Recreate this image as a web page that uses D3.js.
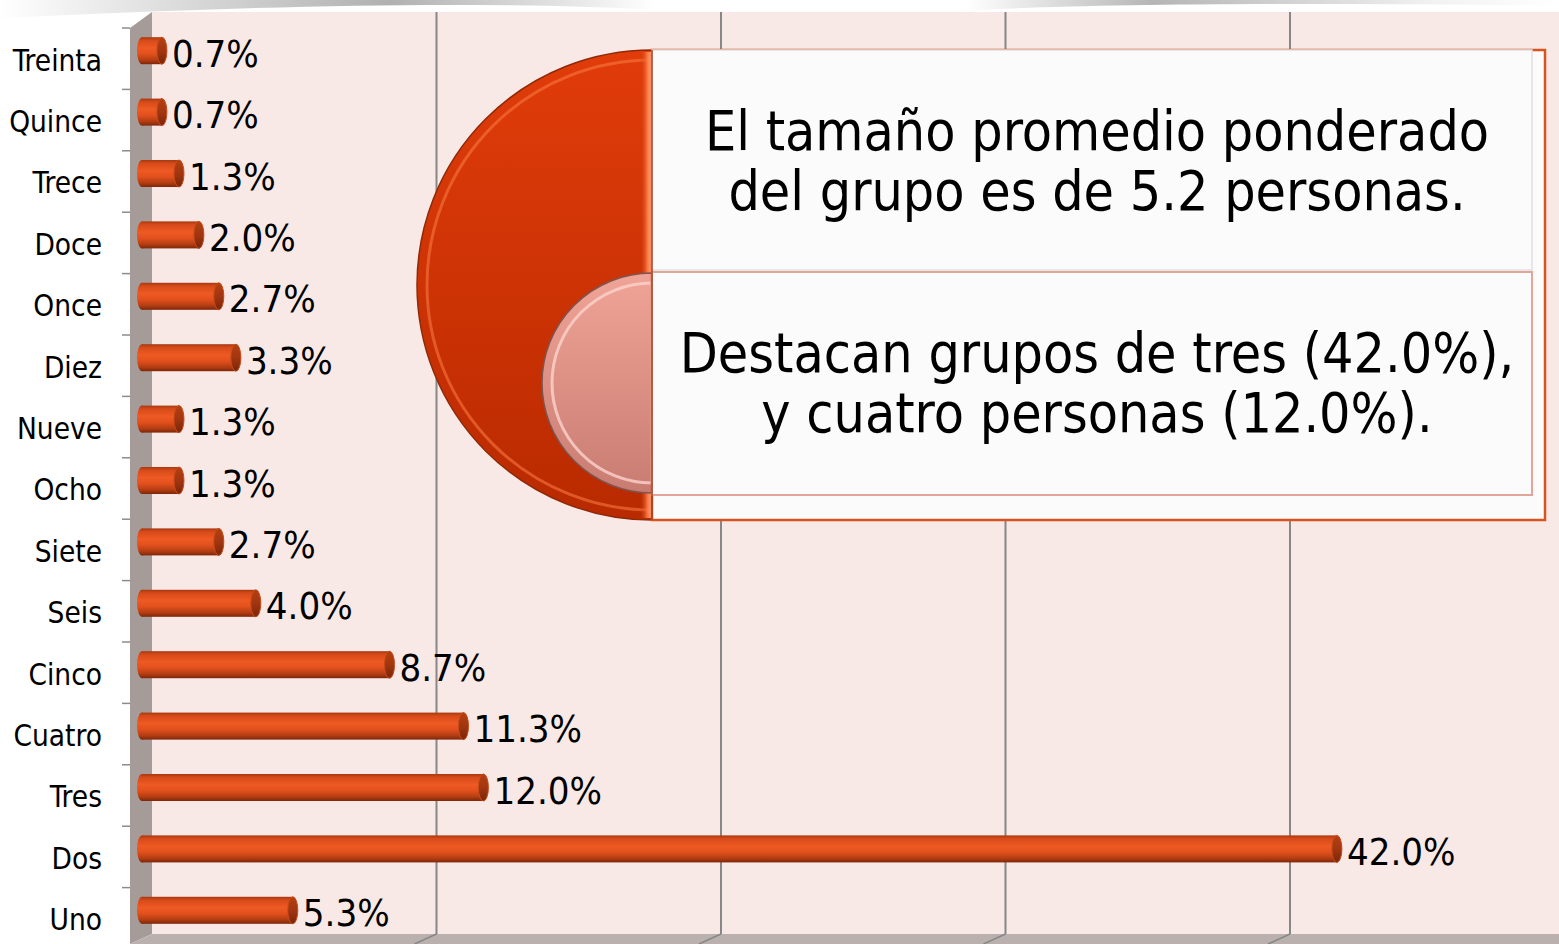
<!DOCTYPE html>
<html>
<head>
<meta charset="utf-8">
<script src="https://cdn.jsdelivr.net/npm/d3@7"></script>
<style>
  html, body { margin: 0; padding: 0; background: #fff; }
  #chart { width: 1559px; height: 944px; }
  text { font-family: "DejaVu Sans Condensed", "DejaVu Sans", sans-serif; }
</style>
</head>
<body>
<div id="chart"></div>
<script>
const categories = ["Treinta", "Quince", "Trece", "Doce", "Once", "Diez", "Nueve", "Ocho",
  "Siete", "Seis", "Cinco", "Cuatro", "Tres", "Dos", "Uno"];
const values = [0.7, 0.7, 1.3, 2.0, 2.7, 3.3, 1.3, 1.3, 2.7, 4.0, 8.7, 11.3, 12.0, 42.0, 5.3];
const xTicks = [0, 10, 20, 30, 40, 50];
const note1 = ["El tamaño promedio ponderado", "del grupo es de 5.2 personas."];
const note2 = ["Destacan grupos de tres (42.0%),", "y cuatro personas (12.0%)."];

function renderBarChart() {
  const width = 1559, height = 944;
  const svg = d3.select("#chart").append("svg").attr("width", width).attr("height", height);
  const defs = svg.append("defs");

  // plot frame (back wall)
  const wallLeft = 152, wallTop = 12, floorTop = 934;
  const depth = 10; // 3d shift of the bars

  const x = d3.scaleLinear().domain([0, 50]).range([wallLeft, wallLeft + 1422.5]);
  const y = d3.scaleBand().domain(categories).range([28, 949]).paddingInner(0.56).paddingOuter(0.28);

  // top decoration
  const topGrad = defs.append("linearGradient").attr("id", "topGrad").attr("x1", 0).attr("x2", 1);
  [["0%", "#fff"], ["8%", "#e6e6e6"], ["25%", "#b0b0b0"], ["42%", "#fff"], ["62%", "#fff"],
   ["74%", "#b5b5b5"], ["92%", "#f2f2f2"], ["100%", "#fff"]]
    .forEach(([o, c]) => topGrad.append("stop").attr("offset", o).attr("stop-color", c));
  svg.append("path")
    .attr("d", "M0,0 L1559,0 L1559,6 C1300,2 1050,4 950,12 L700,12 C500,0 300,4 0,18 Z")
    .attr("fill", "url(#topGrad)");

  // back wall
  svg.append("rect").attr("x", wallLeft).attr("y", wallTop)
    .attr("width", width - wallLeft).attr("height", floorTop - wallTop)
    .attr("fill", "#f8e9e6");

  // side wall
  svg.append("path")
    .attr("d", `M130,28 L${wallLeft},${wallTop} L${wallLeft},${floorTop} L130,944 Z`)
    .attr("fill", "#a59c9a");

  // floor
  svg.append("path")
    .attr("d", `M${wallLeft},${floorTop} L${width},${floorTop} L${width},${height} L130,${height} Z`)
    .attr("fill", "#bab1af");

  // gridlines
  const grid = svg.append("g");
  grid.selectAll("line.v").data(xTicks.slice(1, 5)).enter().append("line")
    .attr("x1", d => x(d)).attr("x2", d => x(d))
    .attr("y1", wallTop).attr("y2", floorTop)
    .attr("stroke", "#878787").attr("stroke-width", 2);
  grid.selectAll("line.f").data(xTicks.slice(1, 5)).enter().append("line")
    .attr("x1", d => x(d)).attr("x2", d => x(d) - 22)
    .attr("y1", floorTop).attr("y2", height)
    .attr("stroke", "#878787").attr("stroke-width", 1.5);

  // category axis
  const yAxis = svg.append("g").attr("transform", "translate(130,0)")
    .call(d3.axisLeft(y).tickSize(0).tickPadding(28));
  yAxis.select(".domain").remove();
  yAxis.selectAll("text").attr("font-size", 29.5).attr("fill", "#000")
    .attr("dy", "0.4em");
  const step = y.step();
  svg.append("g").selectAll("line").data(categories).enter().append("line")
    .attr("x1", 122).attr("x2", 130)
    .attr("y1", d => y(d) - (step - y.bandwidth()) / 2)
    .attr("y2", d => y(d) - (step - y.bandwidth()) / 2)
    .attr("stroke", "#8c8c8c").attr("stroke-width", 1.5);

  // bar gradients
  const barGrad = defs.append("linearGradient").attr("id", "barGrad")
    .attr("x1", 0).attr("x2", 0).attr("y1", 0).attr("y2", 1);
  [["0%", "#a8380f"], ["12%", "#d64a1a"], ["40%", "#ee5a23"], ["62%", "#e2501d"], ["85%", "#b23d12"], ["100%", "#7e260a"]]
    .forEach(([o, c]) => barGrad.append("stop").attr("offset", o).attr("stop-color", c));
  const capGrad = defs.append("linearGradient").attr("id", "capGrad")
    .attr("x1", 0).attr("x2", 0).attr("y1", 0).attr("y2", 1);
  [["0%", "#b4400f"], ["50%", "#a23610"], ["100%", "#7a2508"]]
    .forEach(([o, c]) => capGrad.append("stop").attr("offset", o).attr("stop-color", c));

  const rows = categories.map((c, i) => ({ cat: c, value: values[i] }));
  const bw = y.bandwidth();
  const rx = 5;
  const barY = d => y(d.cat) - 8;

  const bars = svg.append("g").selectAll("g").data(rows).enter().append("g");
  bars.append("ellipse")
    .attr("cx", x(0) - depth).attr("cy", d => barY(d) + bw / 2)
    .attr("rx", rx).attr("ry", bw / 2)
    .attr("fill", "url(#barGrad)");
  bars.append("rect")
    .attr("x", x(0) - depth).attr("y", d => barY(d))
    .attr("width", d => x(d.value) - x(0)).attr("height", bw)
    .attr("fill", "url(#barGrad)");
  bars.append("ellipse")
    .attr("cx", d => x(d.value) - depth).attr("cy", d => barY(d) + bw / 2)
    .attr("rx", rx).attr("ry", bw / 2)
    .attr("fill", "url(#capGrad)").attr("stroke", "#c84a18").attr("stroke-width", 1);

  // value labels
  svg.append("g").selectAll("text").data(rows).enter().append("text")
    .attr("x", d => x(d.value) - depth + rx + 5)
    .attr("y", d => barY(d) + bw / 2 + 16)
    .attr("font-size", 38).attr("fill", "#000")
    .text(d => d.value.toFixed(1) + "%");

  // callout
  const call = svg.append("g");
  const cx = 652;
  const bigGrad = defs.append("linearGradient").attr("id", "bigGrad")
    .attr("x1", 0).attr("x2", 0).attr("y1", 0).attr("y2", 1);
  [["0%", "#e13c0a"], ["100%", "#b92a00"]]
    .forEach(([o, c]) => bigGrad.append("stop").attr("offset", o).attr("stop-color", c));
  const smallGrad = defs.append("linearGradient").attr("id", "smallGrad")
    .attr("x1", 0).attr("x2", 0).attr("y1", 0).attr("y2", 1);
  [["0%", "#f0a497"], ["100%", "#c97c72"]]
    .forEach(([o, c]) => smallGrad.append("stop").attr("offset", o).attr("stop-color", c));
  const stripGrad = defs.append("linearGradient").attr("id", "stripGrad").attr("x1", 0).attr("x2", 1);
  [["0%", "#c43a08", 0], ["60%", "#ff7a45", 0.9], ["100%", "#ffb08a", 1]]
    .forEach(([o, c, a]) => stripGrad.append("stop").attr("offset", o).attr("stop-color", c).attr("stop-opacity", a));

  const halfDisk = (cy, r) => `M${cx},${cy - r} A${r},${r} 0 0 0 ${cx},${cy + r} Z`;
  call.append("path").attr("d", halfDisk(285, 235)).attr("fill", "url(#bigGrad)")
    .attr("stroke", "#8f2a08").attr("stroke-width", 1.5);
  call.append("path").attr("d", halfDisk(285, 225)).attr("fill", "none")
    .attr("stroke", "#f6773f").attr("stroke-width", 3).attr("opacity", 0.6);
  call.append("rect").attr("x", cx - 12).attr("y", 52).attr("width", 12).attr("height", 466)
    .attr("fill", "url(#stripGrad)");
  call.append("path").attr("d", halfDisk(383, 110)).attr("fill", "url(#smallGrad)")
    .attr("stroke", "#7d5450").attr("stroke-width", 1.5);
  call.append("path").attr("d", halfDisk(383, 100)).attr("fill", "none")
    .attr("stroke", "#fbd3cc").attr("stroke-width", 3).attr("opacity", 0.8);

  call.append("rect").attr("x", cx).attr("y", 50).attr("width", 893).attr("height", 470)
    .attr("fill", "#fbfbfb").attr("stroke", "#d9531e").attr("stroke-width", 2.5);
  call.append("rect").attr("x", cx).attr("y", 50).attr("width", 880).attr("height", 220)
    .attr("fill", "#fbfbfb").attr("stroke", "#e0e0e0").attr("stroke-width", 1.5);
  call.append("rect").attr("x", cx).attr("y", 272).attr("width", 880).attr("height", 223)
    .attr("fill", "#fbfbfb").attr("stroke", "#e3a59a").attr("stroke-width", 2);
  call.append("line").attr("x1", cx).attr("x2", cx).attr("y1", 50).attr("y2", 520)
    .attr("stroke", "#a0422a").attr("stroke-width", 1.5);

  const textCx = 1097;
  call.append("g").selectAll("text").data(note1).enter().append("text")
    .attr("x", textCx).attr("y", (d, i) => 150 + i * 60)
    .attr("text-anchor", "middle").attr("font-size", 55).attr("fill", "#000")
    .text(d => d);
  call.append("g").selectAll("text").data(note2).enter().append("text")
    .attr("x", textCx).attr("y", (d, i) => 372 + i * 60)
    .attr("text-anchor", "middle").attr("font-size", 55).attr("fill", "#000")
    .text(d => d);
}

renderBarChart();
</script>
</body>
</html>
